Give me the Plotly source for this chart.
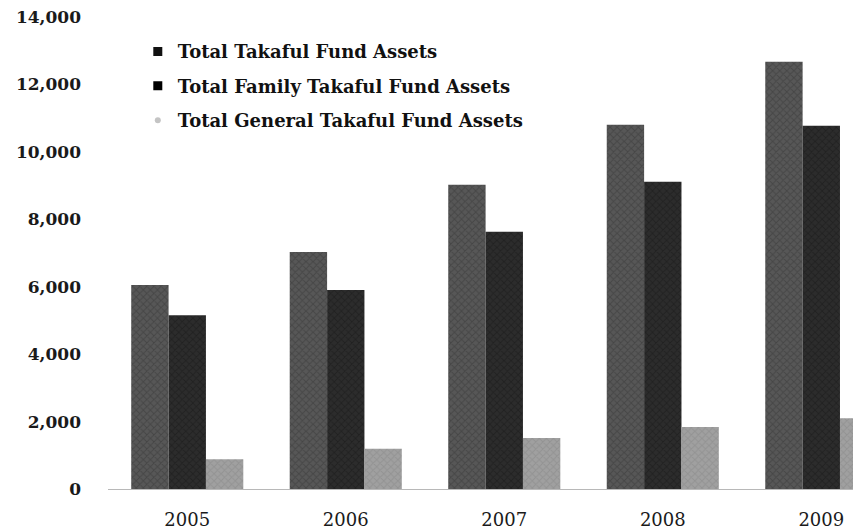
import plotly.graph_objects as go

# Takaful fund assets by year
years = ["2005", "2006", "2007", "2008", "2009"]
total_assets = [6050, 7030, 9020, 10800, 12670]
family_assets = [5150, 5900, 7630, 9110, 10770]
general_assets = [880, 1190, 1510, 1840, 2100]

series_names = [
    "Total Takaful Fund Assets",
    "Total Family Takaful Fund Assets",
    "Total General Takaful Fund Assets",
]
y_ticks = [0, 2000, 4000, 6000, 8000, 10000, 12000, 14000]
y_tick_text = ["0", "2,000", "4,000", "6,000", "8,000", "10,000", "12,000", "14,000"]

bar_styles = [
    dict(bg="#575757", fg="#363636"),
    dict(bg="#2c2c2c", fg="#161616"),
    dict(bg="#a0a0a0", fg="#868686"),
]
legend_marks = [
    dict(color="#111111", symbol="square", size=9),
    dict(color="#000000", symbol="square", size=9),
    dict(color="#c4c4c4", symbol="circle", size=6),
]

fig = go.Figure()
for name, vals, st in zip(series_names, [total_assets, family_assets, general_assets], bar_styles):
    fig.add_trace(go.Bar(
        x=years, y=vals, name=name, showlegend=False,
        marker=dict(
            color=st["bg"], line=dict(width=0),
            pattern=dict(shape="x", size=5, solidity=0.35,
                         fgcolor=st["fg"], bgcolor=st["bg"]),
        ),
    ))

# legend entries with small square keys
for i, (name, mk) in enumerate(zip(series_names, legend_marks)):
    fig.add_trace(go.Scatter(
        x=[None], y=[None], mode="markers", name=name,
        legendgroup=f"g{i}", marker=dict(color=mk["color"], symbol=mk["symbol"], size=mk["size"]),
    ))

fig.update_layout(
    width=853, height=530,
    margin=dict(l=108, r=0, t=0, b=41),
    paper_bgcolor="white", plot_bgcolor="white",
    barmode="group", bargap=0.293, bargroupgap=0,
    font=dict(family="DejaVu Serif", color="#1a1a1a"),
    legend=dict(
        x=0.04, y=0.932, xanchor="left", yanchor="top",
        font=dict(family="DejaVu Serif", size=18, color="#111111", weight="bold"),
        tracegroupgap=8, bgcolor="rgba(0,0,0,0)",
    ),
    showlegend=True,
)
fig.update_xaxes(
    type="category", range=[-0.5, 4.2], automargin=False,
    showline=True, linecolor="#b8b8b8", linewidth=1,
    showgrid=False, ticks="", ticklabelstandoff=14,
    tickfont=dict(family="DejaVu Serif", size=18, color="#1a1a1a"),
)
fig.update_yaxes(
    range=[0, 14500], tickvals=y_ticks, ticktext=y_tick_text, automargin=False,
    showgrid=False, zeroline=False, showline=False, ticks="",
    ticklabelstandoff=26,
    tickfont=dict(family="DejaVu Serif", size=17, color="#1a1a1a", weight="bold"),
)

fig.write_html("out.html")
